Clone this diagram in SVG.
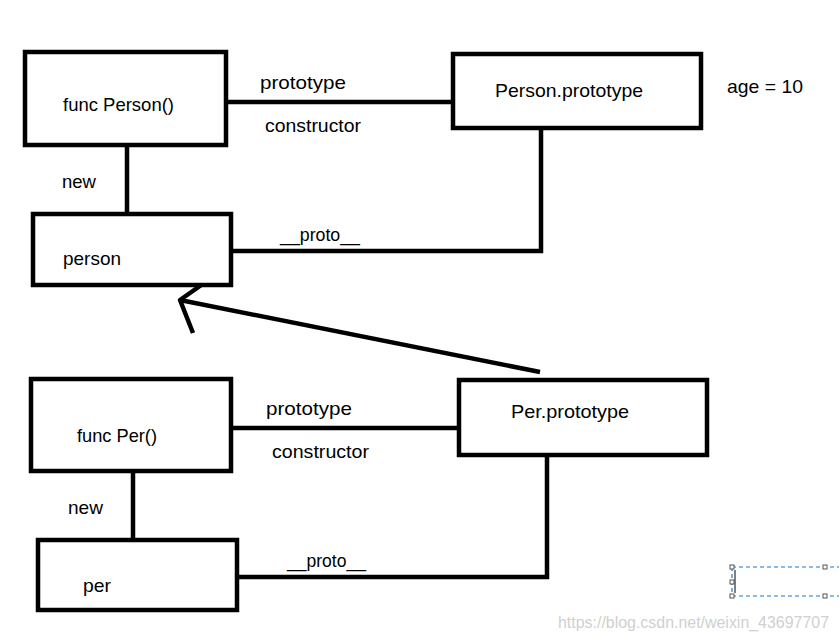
<svg xmlns="http://www.w3.org/2000/svg" width="839" height="642" viewBox="0 0 839 642">
<style>
.box{fill:#fff;stroke:#000;stroke-width:4.5}
.ln{fill:none;stroke:#000;stroke-width:4.5;stroke-linecap:butt}
.t{font-family:"Liberation Sans","Noto Sans",Arial,sans-serif;font-size:19px;fill:#000}
.sel{fill:none;stroke:#1a78d2;stroke-width:1.2;stroke-dasharray:4 3}
.h{fill:#fff;stroke:#555;stroke-width:1}
</style>
<rect width="839" height="642" fill="#fff"/>
<g id="connectors">
<line class="ln" x1="127" y1="145" x2="127" y2="220"/>
<line class="ln" x1="226" y1="102" x2="453" y2="102"/>
<polyline class="ln" points="541,128 541,251 231,251"/>
<line class="ln" x1="133" y1="471" x2="133" y2="547"/>
<line class="ln" x1="231" y1="428" x2="459" y2="428"/>
<polyline class="ln" points="547,455 547,577 237,577"/>
<line class="ln" x1="540" y1="372" x2="180" y2="300" stroke-linecap="round"/>
<polyline class="ln" points="207,281 180,300 193,333" stroke-linecap="round" stroke-linejoin="round"/>
<text class="t" x="260" y="89" textLength="86" lengthAdjust="spacingAndGlyphs">prototype</text>
<text class="t" x="265" y="132" textLength="96" lengthAdjust="spacingAndGlyphs">constructor</text>
<text class="t" x="62" y="188" textLength="34" lengthAdjust="spacingAndGlyphs">new</text>
<text class="t" x="280" y="241" textLength="80" lengthAdjust="spacingAndGlyphs">__proto__</text>
<text class="t" x="266" y="415" textLength="86" lengthAdjust="spacingAndGlyphs">prototype</text>
<text class="t" x="272" y="458" textLength="97" lengthAdjust="spacingAndGlyphs">constructor</text>
<text class="t" x="68" y="514" textLength="35" lengthAdjust="spacingAndGlyphs">new</text>
<text class="t" x="287" y="567" textLength="79" lengthAdjust="spacingAndGlyphs">__proto__</text>
</g>
<g id="funcPerson">
<rect class="box" x="25" y="52" width="201" height="93"/>
<text class="t" x="63" y="111" textLength="111" lengthAdjust="spacingAndGlyphs">func Person()</text>
</g>
<g id="person">
<rect class="box" x="33" y="214" width="198" height="71"/>
<text class="t" x="63" y="265" textLength="58" lengthAdjust="spacingAndGlyphs">person</text>
</g>
<g id="personPrototype">
<rect class="box" x="453" y="54" width="248" height="74"/>
<text class="t" x="495" y="97" textLength="148" lengthAdjust="spacingAndGlyphs">Person.prototype</text>
</g>
<g id="age">
<text class="t" x="727" y="93" textLength="76" lengthAdjust="spacingAndGlyphs">age = 10</text>
</g>
<g id="funcPer">
<rect class="box" x="31" y="379" width="200" height="92"/>
<text class="t" x="77" y="442" textLength="80" lengthAdjust="spacingAndGlyphs">func Per()</text>
</g>
<g id="per">
<rect class="box" x="38" y="540" width="199" height="70"/>
<text class="t" x="83" y="592" textLength="28" lengthAdjust="spacingAndGlyphs">per</text>
</g>
<g id="perPrototype">
<rect class="box" x="459" y="380" width="248" height="75"/>
<text class="t" x="511" y="418" textLength="118" lengthAdjust="spacingAndGlyphs">Per.prototype</text>
</g>
<g id="selection">
<line class="sel" x1="732" y1="567" x2="839" y2="567"/>
<line class="sel" x1="732" y1="596" x2="839" y2="596"/>
<line class="sel" x1="732" y1="567" x2="732" y2="596"/>
<line x1="735" y1="570" x2="735" y2="593" stroke="#000" stroke-width="1"/>
<rect class="h" x="730" y="565" width="4" height="4"/>
<rect class="h" x="730" y="580" width="4" height="4"/>
<rect class="h" x="730" y="594" width="4" height="4"/>
<rect class="h" x="823" y="565" width="4" height="4"/>
<rect class="h" x="823" y="594" width="4" height="4"/>
</g>
<text x="558" y="628" font-family="Liberation Sans,Arial,sans-serif" font-size="16" fill="#d0d0d0" textLength="271" lengthAdjust="spacingAndGlyphs">https://blog.csdn.net/weixin_43697707</text>
</svg>
